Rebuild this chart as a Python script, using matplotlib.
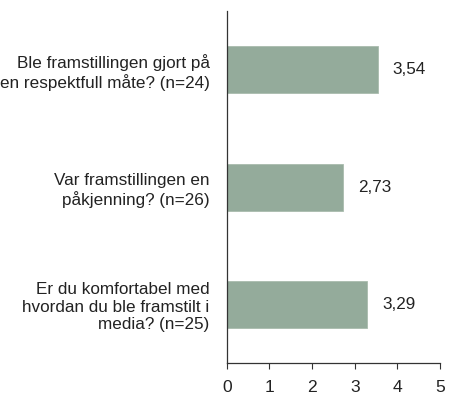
import matplotlib
matplotlib.use("Agg")
import matplotlib.pyplot as plt

categories = [
    "Ble framstillingen gjort på\nen respektfull måte? (n=24)",
    "Var framstillingen en\npåkjenning? (n=26)",
    "Er du komfortabel med\nhvordan du ble framstilt i\nmedia? (n=25)",
]
values = [3.54, 2.73, 3.29]
value_labels = ["3,54", "2,73", "3,29"]
xticks = [0, 1, 2, 3, 4, 5]

plt.rcParams['font.family'] = ['Liberation Sans', 'DejaVu Sans']
text_color = "#222222"
fs = 12.3

fig = plt.figure(figsize=(4.5, 4.08), dpi=100)
ax = fig.add_axes([0.504, 0.110, 0.474, 0.863])

ypos = list(range(len(categories)))
ax.barh(ypos, values, height=0.4, color="#94ab9b", edgecolor="#a9bcae", linewidth=0.6)
ax.set_ylim(2.5, -0.5)
ax.set_xlim(0, 5)
ax.set_xticks(xticks)
ax.set_xticklabels([str(t) for t in xticks], fontsize=12.6, color=text_color)
ax.set_yticks(ypos)
ax.set_yticklabels(categories, fontsize=fs, color=text_color, linespacing=1.22)
ax.tick_params(axis='y', length=0, pad=12.3)
ax.tick_params(axis='x', length=4, width=0.8, color="#333333", pad=8, direction='out')

for s in ['top', 'right']:
    ax.spines[s].set_visible(False)
for s in ['left', 'bottom']:
    ax.spines[s].set_color("#333333")
    ax.spines[s].set_linewidth(0.9)

for y, v, lab in zip(ypos, values, value_labels):
    ax.annotate(lab, xy=(v, y), xytext=(15, 0), textcoords='offset pixels',
                va='center', ha='left', fontsize=fs, color=text_color)

fig.savefig("out.png", dpi=100)
